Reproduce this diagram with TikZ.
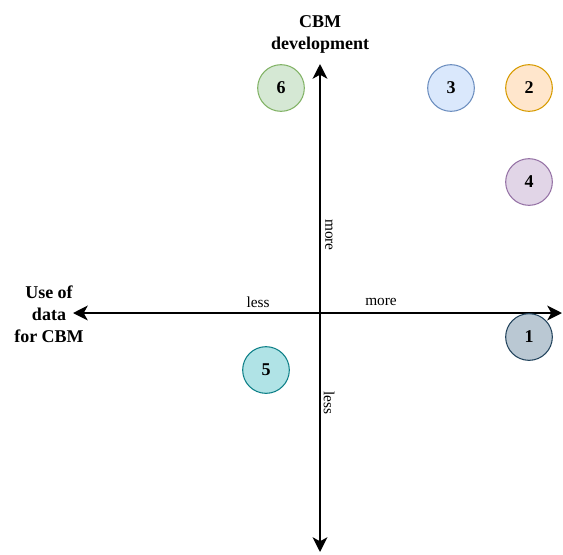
\documentclass[tikz,border=0pt]{standalone}
\usepackage{fontspec}
\setmainfont{Liberation Serif}
\usetikzlibrary{arrows.meta}

\definecolor{greenfill}{HTML}{D5E8D4}\definecolor{greenline}{HTML}{82B366}
\definecolor{bluefill}{HTML}{DAE8FC}\definecolor{blueline}{HTML}{6C8EBF}
\definecolor{orangefill}{HTML}{FFE6CC}\definecolor{orangeline}{HTML}{D79B00}
\definecolor{purplefill}{HTML}{E1D5E7}\definecolor{purpleline}{HTML}{9673A6}
\definecolor{greyfill}{HTML}{BAC8D3}\definecolor{greyline}{HTML}{23445D}
\definecolor{tealfill}{HTML}{B0E3E6}\definecolor{tealline}{HTML}{0E8088}

\begin{document}
\begin{tikzpicture}[x=0.75pt,y=-0.75pt]
\tikzset{
axisarrow/.style={-{Stealth[length=11pt,width=11pt,inset=3pt]}, line width=2pt},
axislabel/.style={font=\bfseries\fontsize{13.5}{16.5}\selectfont, align=center},
ticklabel/.style={font=\fontsize{11.5}{12}\selectfont, inner sep=1pt},
item/.style={circle, minimum size=35pt, inner sep=0pt, line width=0.8pt, font=\bfseries\fontsize{13.5}{14}\selectfont},
}
\useasboundingbox (0,0) rectangle (563,554);

% axes
\coordinate (origin) at (320,313);
\coordinate (left) at (73,313);
\coordinate (right) at (562,313);
\coordinate (top) at (320,64);
\coordinate (bottom) at (320,552);
\draw[axisarrow] (origin) -- (left);
\draw[axisarrow] (origin) -- (right);
\draw[axisarrow] (origin) -- (top);
\draw[axisarrow] (origin) -- (bottom);

\node[axislabel] (cbmdev) at (320,34) {CBM\\development};
\node[axislabel] (usedata) at (49,314) {Use of\\data\\for CBM};

\node[ticklabel] (lessx) at (258,302) {less};
\node[ticklabel] (morex) at (381,302) {more};
\node[ticklabel, rotate=-90] (morey) at (329,235) {more};
\node[ticklabel, rotate=-90] (lessy) at (329,403) {less};

% items
\node[item, fill=greenfill, draw=greenline] (six) at (281,88) {6};
\node[item, fill=bluefill, draw=blueline] (three) at (451,88) {3};
\node[item, fill=orangefill, draw=orangeline] (two) at (529,88) {2};
\node[item, fill=purplefill, draw=purpleline] (four) at (529,182) {4};
\node[item, fill=greyfill, draw=greyline] (one) at (529,337) {1};
\node[item, fill=tealfill, draw=tealline] (five) at (266,370) {5};
\end{tikzpicture}
\end{document}
